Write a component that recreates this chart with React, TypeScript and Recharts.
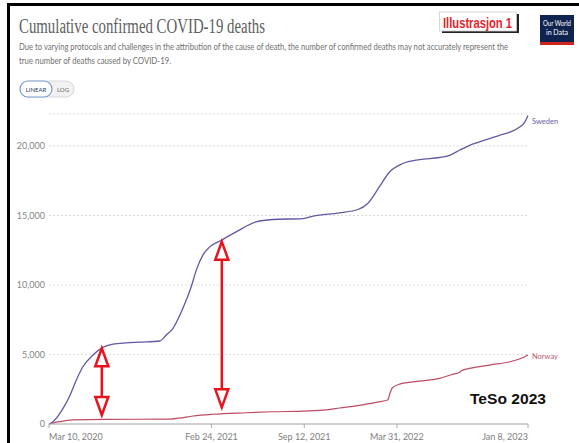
import React from "react";
import {
  LineChart,
  Line,
  XAxis,
  YAxis,
  CartesianGrid,
  ReferenceLine,
  ReferenceDot,
  LabelList,
} from "recharts";

// Days since Mar 10, 2020
const swedenDays = [0, 8, 19, 30, 44, 59, 73, 95, 116, 138, 167, 195, 239, 253, 267, 289, 307, 318, 332, 347, 372, 404, 447, 483, 548, 570, 627, 667, 688, 713, 735, 764, 800, 843, 865, 886, 908, 929, 951, 973, 995, 1016, 1027, 1034];
const swedenDeaths = [0, 150, 550, 1100, 1960, 3160, 4120, 4960, 5510, 5750, 5840, 5890, 5970, 6400, 6850, 8320, 9870, 11070, 12150, 12740, 13220, 13820, 14540, 14710, 14780, 14950, 15190, 15430, 15860, 17050, 18130, 18740, 19020, 19170, 19330, 19690, 20050, 20290, 20530, 20770, 21000, 21360, 21720, 22200];

const norwayDays = [0, 10, 23, 51, 124, 253, 280, 311, 354, 426, 483, 549, 600, 627, 680, 709, 731, 737, 741, 757, 800, 843, 870, 886, 890, 951, 995, 1027, 1034];
const norwayDeaths = [0, 80, 165, 290, 338, 345, 420, 575, 700, 810, 880, 930, 1020, 1150, 1400, 1580, 1725, 2300, 2590, 2870, 3080, 3280, 3560, 3700, 3840, 4240, 4480, 4840, 4960];

const tickDays = [0, 351, 551, 751, 1034];
const tickLabels = ["Mar 10, 2020", "Feb 24, 2021", "Sep 12, 2021", "Mar 31, 2022", "Jan 8, 2023"];
const yTicks = [0, 5000, 10000, 15000, 20000];

// annotation arrows (day, low value, high value)
const arrowDays = [114, 373];
const arrowLow = [647, 1200];
const arrowHigh = [5446, 13114];

const swedenData = swedenDays.map((d, i) => ({ day: d, value: swedenDeaths[i] }));
const norwayData = norwayDays.map((d, i) => ({ day: d, value: norwayDeaths[i] }));

const SWEDEN = "#6557a3";
const NORWAY = "#bd4b63";
const RED = "#e8141c";

const XTick = (props: any) => {
  const { x, y, payload } = props;
  const idx = tickDays.indexOf(payload.value);
  const anchor = idx === 0 ? "start" : idx === tickDays.length - 1 ? "end" : "middle";
  return (
    <text x={x} y={y} dy={10} textAnchor={anchor} fontFamily="Lato" fontSize={9} fill="#808080">
      {tickLabels[idx]}
    </text>
  );
};

const makeEndLabel = (name: string, color: string, len: number, dy: number) => (props: any) => {
  const { x, y, index } = props;
  if (index !== len - 1) return null;
  return (
    <text x={x + 4} y={y + dy} fontFamily="Lato" fontSize={7.5} fill={color}>
      {name}
    </text>
  );
};

const UpHead = (props: any) => {
  const { cx, cy } = props;
  return (
    <polygon
      points={`${cx},${cy} ${cx - 6.5},${cy + 18} ${cx + 6.5},${cy + 18}`}
      fill="#fff"
      stroke={RED}
      strokeWidth={2.5}
      strokeLinejoin="miter"
    />
  );
};

const DownHead = (props: any) => {
  const { cx, cy } = props;
  return (
    <polygon
      points={`${cx},${cy} ${cx - 6.5},${cy - 18} ${cx + 6.5},${cy - 18}`}
      fill="#fff"
      stroke={RED}
      strokeWidth={2.5}
      strokeLinejoin="miter"
    />
  );
};

export default function App() {
  return (
    <div
      style={{
        position: "absolute",
        left: 0,
        top: 0,
        width: 579,
        height: 443,
        background: "#fff",
        overflow: "hidden",
      }}
    >
      <div style={{ position: "absolute", left: 0, top: 0 }}>
        <LineChart width={579} height={443} margin={{ top: 114, right: 51, bottom: 0, left: 0 }}>
          <CartesianGrid vertical={false} stroke="#dcdcdc" strokeDasharray="2 2" />
          <XAxis
            type="number"
            dataKey="day"
            domain={[0, 1034]}
            ticks={tickDays}
            height={19}
            tickSize={4}
            tickMargin={2}
            axisLine={{ stroke: "#aaa" }}
            tickLine={{ stroke: "#aaa" }}
            tick={<XTick />}
            interval={0}
          />
          <YAxis
            type="number"
            domain={[0, 22300]}
            ticks={yTicks}
            width={49}
            axisLine={false}
            tickLine={false}
            tickSize={0}
            tickMargin={4}
            interval={0}
            tickFormatter={(v: number) => v.toLocaleString("en-US")}
            tick={{ fontFamily: "Lato", fontSize: 9, fill: "#858585" }}
          />
          <Line
            data={norwayData}
            dataKey="value"
            type="monotone"
            stroke={NORWAY}
            strokeWidth={1.2}
            dot={false}
            isAnimationActive={false}
          >
            <LabelList dataKey="value" content={makeEndLabel("Norway", "#c25a6e", norwayData.length, 4)} />
          </Line>
          <Line
            data={swedenData}
            dataKey="value"
            type="monotone"
            stroke={SWEDEN}
            strokeWidth={1.3}
            dot={false}
            isAnimationActive={false}
          >
            <LabelList dataKey="value" content={makeEndLabel("Sweden", "#6a5ca6", swedenData.length, 9)} />
          </Line>
          {arrowDays.map((d, i) => (
            <ReferenceLine
              key={`s${i}`}
              segment={[
                { x: d, y: arrowLow[i] },
                { x: d, y: arrowHigh[i] },
              ]}
              stroke={RED}
              strokeWidth={2.5}
            />
          ))}
          {arrowDays.map((d, i) => (
            <ReferenceDot key={`u${i}`} x={d} y={arrowHigh[i]} shape={<UpHead />} />
          ))}
          {arrowDays.map((d, i) => (
            <ReferenceDot key={`d${i}`} x={d} y={arrowLow[i]} shape={<DownHead />} />
          ))}
        </LineChart>
      </div>

      <svg
        width={579}
        height={443}
        style={{ position: "absolute", left: 0, top: 0, pointerEvents: "none" }}
      >
        {/* frame */}
        <rect x={7} y={3} width={572} height={3} fill="#000" />
        <rect x={7} y={3} width={3} height={440} fill="#000" />

        <text
          x={19}
          y={33}
          fontFamily="Liberation Serif"
          fontSize={20}
          fill="#606060"
          textLength={246}
          lengthAdjust="spacingAndGlyphs"
        >
          Cumulative confirmed COVID-19 deaths
        </text>
        <text
          x={19}
          y={49.5}
          fontFamily="Lato"
          fontSize={8.5}
          fill="#707070"
          textLength={489}
          lengthAdjust="spacingAndGlyphs"
        >
          Due to varying protocols and challenges in the attribution of the cause of death, the number of confirmed deaths may not accurately represent the
        </text>
        <text
          x={19}
          y={63.5}
          fontFamily="Lato"
          fontSize={8.5}
          fill="#707070"
          textLength={152}
          lengthAdjust="spacingAndGlyphs"
        >
          true number of deaths caused by COVID-19.
        </text>

        {/* LINEAR / LOG toggle */}
        <rect x={20} y={81} width={54} height={16} rx={8} fill="#f2f2f2" stroke="#d8d8d8" />
        <rect x={20} y={81} width={32} height={16} rx={8} fill="#fff" stroke="#7a9bd6" strokeWidth={1.2} />
        <text x={36} y={91.5} fontFamily="Lato" fontSize={6} fill="#1d3d63" textAnchor="middle">
          LINEAR
        </text>
        <text x={63} y={91.5} fontFamily="Lato" fontSize={6} fill="#666" textAnchor="middle">
          LOG
        </text>

        {/* Illustrasjon box */}
        <rect x={442} y={14} width={77} height={19} fill="#222" />
        <rect x={439.5} y={12} width={77} height={19} fill="#fff" stroke="#ccc" strokeWidth={0.8} />
        <text
          x={443}
          y={28}
          fontFamily="Liberation Sans"
          fontWeight="bold"
          fontSize={15}
          fill="#e3242b"
          textLength={69}
          lengthAdjust="spacingAndGlyphs"
        >
          Illustrasjon 1
        </text>

        {/* OWID logo */}
        <rect x={540} y={15} width={34} height={30} fill="#0f2350" />
        <rect x={540} y={42} width={34} height={3} fill="#ce261e" />
        <text x={557} y={26} fontFamily="Lato" fontSize={7} fill="#fff" textAnchor="middle" textLength={28} lengthAdjust="spacingAndGlyphs">
          Our World
        </text>
        <text x={557} y={35} fontFamily="Lato" fontSize={7} fill="#fff" textAnchor="middle">
          in Data
        </text>

        <text
          x={470}
          y={404}
          fontFamily="Liberation Sans"
          fontWeight="bold"
          fontSize={15}
          fill="#111"
          textLength={76}
          lengthAdjust="spacingAndGlyphs"
        >
          TeSo 2023
        </text>
      </svg>
    </div>
  );
}
